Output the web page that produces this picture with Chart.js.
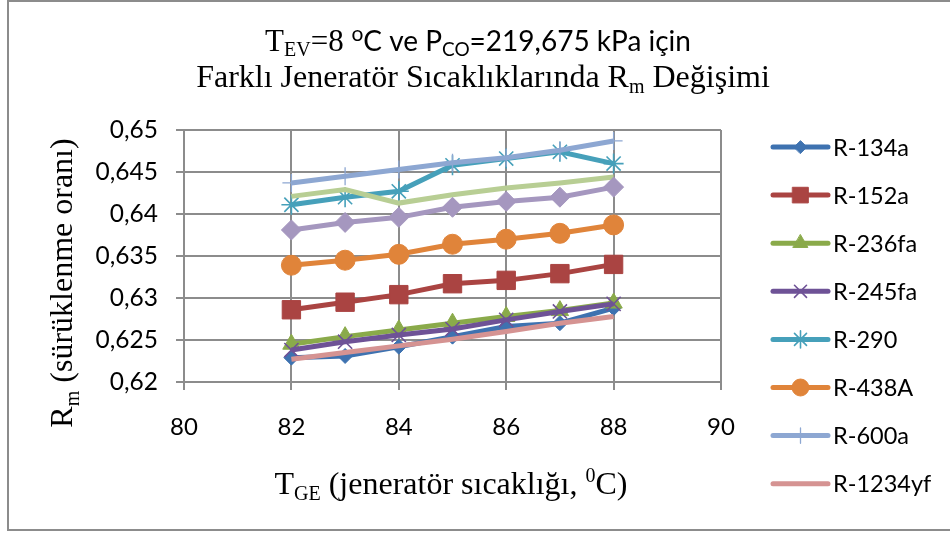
<!DOCTYPE html>
<html>
<head>
<meta charset="utf-8">
<script src="https://cdn.jsdelivr.net/npm/chart.js@4.4.0/dist/chart.umd.min.js"></script>
<style>
  html, body { margin: 0; padding: 0; background: #fff; }
  #wrap { width: 950px; height: 534px; }
</style>
</head>
<body>
<div id="wrap"><canvas id="rmChart" width="950" height="534"></canvas></div>
<script>
// generator temperature (°C)
const tempGE = [82, 83, 84, 85, 86, 87, 88];

// entrainment ratio Rm per refrigerant
const r134a   = [0.6229, 0.6231, 0.6242, 0.6254, 0.6266, 0.6270, 0.6288];
const r152a   = [0.6286, 0.6295, 0.6304, 0.6317, 0.6321, 0.6329, 0.6340];
const r236fa  = [0.6245, 0.6254, 0.6262, 0.6270, 0.6278, 0.6285, 0.6294];
const r245fa  = [0.6238, 0.6248, 0.6256, 0.6263, 0.6274, 0.6284, 0.6293];
const r290    = [0.6411, 0.6420, 0.6427, 0.6458, 0.6466, 0.6474, 0.6460];
const r438A   = [0.6339, 0.6345, 0.6352, 0.6364, 0.6370, 0.6377, 0.6387];
const r600a   = [0.6437, 0.6445, 0.6453, 0.6461, 0.6467, 0.6476, 0.6487];
const r1234yf = [0.6227, 0.6235, 0.6243, 0.6251, 0.6260, 0.6270, 0.6278];
const seri9   = [0.6421, 0.6429, 0.6413, 0.6423, 0.6431, 0.6437, 0.6444];
const seri10  = [0.6381, 0.6390, 0.6396, 0.6408, 0.6415, 0.6420, 0.6432];

const seriesNames = ["R-134a", "R-152a", "R-236fa", "R-245fa", "R-290", "R-438A", "R-600a", "R-1234yf", "Seri 9", "Seri 10"];
const seriesData = [r134a, r152a, r236fa, r245fa, r290, r438A, r600a, r1234yf, seri9, seri10];

// axis ticks
const xTickValues = [80, 82, 84, 86, 88, 90];
const xTickLabels = ["80", "82", "84", "86", "88", "90"];
const yTickValues = [0.62, 0.625, 0.63, 0.635, 0.64, 0.645, 0.65];
const yTickLabels = ["0,62", "0,625", "0,63", "0,635", "0,64", "0,645", "0,65"];

// line colour + marker per series (Excel-style palette)
const styles = [
  { color: "#3E72B0", point: "rectRot", r: 7.5, bw: 1 },
  { color: "#AA4442", point: "rect", r: 13, bw: 1 },
  { color: "#8AAA4A", point: "triangle", r: 10, bw: 1 },
  { color: "#6E5296", point: "crossRot", r: 10, bw: 1.6 },
  { color: "#46A0BA", point: "star", r: 10, bw: 1.6 },
  { color: "#E0843A", point: "circle", r: 10, bw: 1 },
  { color: "#8DA7D2", point: "cross", r: 9, bw: 1.3 },
  { color: "#D59392", point: "circle", r: 0, bw: 0 },
  { color: "#B8CE94", point: "circle", r: 0, bw: 0 },
  { color: "#A597BF", point: "rectRot", r: 10, bw: 1 }
];

const SERIF = "'Liberation Serif', 'Times New Roman', serif";
const SANS = "Lato, 'Open Sans', sans-serif";
const GRID = "#8C8C8C";

const datasets = seriesData.map((vals, i) => ({
  label: seriesNames[i],
  data: vals.map((v, k) => ({ x: tempGE[k], y: v })),
  borderColor: styles[i].color,
  backgroundColor: styles[i].color,
  borderWidth: 5,
  pointStyle: styles[i].point,
  pointRadius: styles[i].r,
  pointHoverRadius: styles[i].r,
  pointBorderWidth: styles[i].bw,
  pointBorderColor: styles[i].color,
  pointBackgroundColor: styles[i].color,
  tension: 0,
  order: 10 - i
}));

// draw a line of text made of runs (normal / sub / superscript)
function drawRuns(ctx, runs, cx, baseY) {
  let total = 0;
  runs.forEach(r => { ctx.font = r.font; r.w = ctx.measureText(r.text).width; total += r.w; });
  let x = cx - total / 2;
  ctx.textAlign = "left";
  ctx.textBaseline = "alphabetic";
  runs.forEach(r => {
    ctx.font = r.font;
    ctx.fillText(r.text, x, baseY + (r.dy || 0));
    x += r.w;
  });
}

const decorPlugin = {
  id: "decor",
  afterDraw(chart) {
    const ctx = chart.ctx;
    ctx.save();
    ctx.fillStyle = "#000";

    // outer frame
    ctx.strokeStyle = GRID;
    ctx.lineWidth = 2;
    ctx.beginPath();
    ctx.moveTo(950, 1);
    ctx.lineTo(8, 1);
    ctx.lineTo(8, 530);
    ctx.lineTo(950, 530);
    ctx.stroke();

    // title
    const big = "31px " + SERIF, sub = "20px " + SERIF;
    drawRuns(ctx, [
      { text: "T", font: big },
      { text: "EV", font: sub, dy: 5 },
      { text: "=8 ", font: big },
      { text: "o", font: "21px " + SANS, dy: -10 },
      { text: "C ve P", font: "28px " + SANS },
      { text: "CO", font: "19px " + SANS, dy: 5 },
      { text: "=219,675 kPa için", font: "28px " + SANS }
    ], 478, 51);
    drawRuns(ctx, [
      { text: "Farklı Jeneratör Sıcaklıklarında R", font: "32px " + SERIF },
      { text: "m", font: sub, dy: 6 },
      { text: " Değişimi", font: "32px " + SERIF }
    ], 483, 87);

    // x axis title
    const ax = "32px " + SERIF, axs = "20px " + SERIF;
    drawRuns(ctx, [
      { text: "T", font: ax },
      { text: "GE", font: axs, dy: 6 },
      { text: " (jeneratör sıcaklığı, ", font: ax },
      { text: "0", font: axs, dy: -12 },
      { text: "C)", font: ax }
    ], 451, 494);

    // y axis title (rotated)
    ctx.save();
    ctx.translate(72, 283);
    ctx.rotate(-Math.PI / 2);
    drawRuns(ctx, [
      { text: "R", font: ax },
      { text: "m", font: axs, dy: 7 },
      { text: " (sürüklenme oranı)", font: ax }
    ], 0, 0);
    ctx.restore();

    // legend: line sample with marker, clipped by the frame
    const lx0 = 773, lx1 = 828, ly0 = 147, step = 48.1;
    ctx.font = "23.5px " + SANS;
    ctx.textBaseline = "middle";
    ctx.textAlign = "left";
    chart.data.datasets.forEach((ds, i) => {
      const y = ly0 + i * step;
      if (y > 510) return;
      const st = styles[i];
      ctx.strokeStyle = st.color;
      ctx.lineWidth = 5;
      ctx.lineCap = "round";
      ctx.beginPath();
      ctx.moveTo(lx0, y);
      ctx.lineTo(lx1, y);
      ctx.stroke();
      if (st.r > 0) {
        ctx.fillStyle = st.color;
        ctx.lineWidth = st.bw;
        Chart.helpers.drawPoint(ctx, { pointStyle: st.point, radius: st.r * 0.85, rotation: 0, borderWidth: st.bw }, (lx0 + lx1) / 2, y);
      }
      ctx.fillStyle = "#000";
      ctx.fillText(ds.label, 833, y + 1);
    });
    ctx.restore();
  }
};

new Chart(document.getElementById("rmChart"), {
  type: "line",
  data: { datasets: datasets },
  options: {
    responsive: false,
    animation: false,
    events: [],
    layout: { padding: { left: 0, top: 130, right: 229, bottom: 0 } },
    plugins: {
      legend: { display: false },
      title: { display: false },
      tooltip: { enabled: false }
    },
    scales: {
      x: {
        type: "linear",
        min: 80,
        max: 90,
        afterFit: s => { s.height = 152; },
        afterBuildTicks: s => { s.ticks = xTickValues.map(v => ({ value: v })); },
        grid: { color: GRID, lineWidth: 2, tickLength: 8, drawTicks: true },
        border: { color: GRID, width: 2 },
        ticks: {
          padding: 23,
          color: "#000",
          font: { family: SANS, size: 24 },
          maxRotation: 0,
          callback: (v, i) => xTickLabels[i]
        }
      },
      y: {
        type: "linear",
        min: 0.62,
        max: 0.65,
        afterFit: s => { s.width = 184; },
        afterBuildTicks: s => { s.ticks = yTickValues.map(v => ({ value: v })); },
        grid: { color: GRID, lineWidth: 2, tickLength: 8, drawTicks: true },
        border: { color: GRID, width: 2 },
        ticks: {
          padding: 18,
          color: "#000",
          font: { family: SANS, size: 24.5 },
          callback: (v, i) => yTickLabels[i]
        }
      }
    }
  },
  plugins: [decorPlugin]
});
</script>
</body>
</html>
